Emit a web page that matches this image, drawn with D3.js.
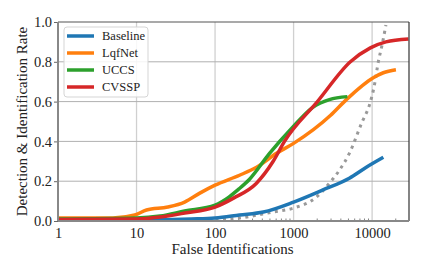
<!DOCTYPE html>
<html>
<head>
<meta charset="utf-8">
<script src="https://d3js.org/d3.v7.min.js"></script>
<style>
  body { margin: 0; background: #fff; }
</style>
</head>
<body>
<svg id="chart" width="428" height="275"></svg>
<script>
const FONT = "'Liberation Serif', serif";

// series names and colours
const names = ["Baseline", "LqfNet", "UCCS", "CVSSP"];
const colors = ["#1f77b4", "#ff7f0e", "#2ca02c", "#d62728"];

// [false identifications, rate]
const baseline = [[1,0.005],[10,0.005],[50,0.01],[100,0.015],[205,0.03],[412,0.045],[1000,0.095],[2330,0.155],[5130,0.215],[8440,0.27],[13900,0.32]];
const lqfnet = [[1,0.015],[5,0.015],[9.5,0.03],[13.4,0.055],[25,0.07],[41,0.095],[64,0.14],[100,0.18],[205,0.23],[338,0.27],[606,0.34],[1000,0.39],[2940,0.53],[4700,0.61],[10350,0.72],[13900,0.745],[20100,0.76]];
const uccs = [[1,0.01],[10,0.015],[20,0.025],[41,0.05],[100,0.08],[150,0.12],[200,0.16],[275,0.21],[494,0.34],[968,0.47],[1740,0.57],[2860,0.61],[4840,0.625]];
const cvssp = [[1,0.008],[10,0.01],[20,0.02],[41,0.04],[100,0.07],[172,0.115],[337,0.19],[550,0.3],[766,0.4],[2013,0.6],[5290,0.8],[9500,0.87],[15000,0.9],[29000,0.915]];
const unlabeled = [[1,0.002],[100,0.005],[205,0.015],[540,0.045],[1000,0.065],[1955,0.12],[2860,0.19],[3830,0.255],[5130,0.34],[7500,0.5],[9200,0.58],[10670,0.68],[12000,0.8],[13400,0.885],[15000,0.985]];

const xTicks = [1, 10, 100, 1000, 10000];
const yTicks = [0, 0.2, 0.4, 0.6, 0.8, 1.0];

const margin = {top: 22, right: 19, bottom: 54, left: 58};
const width = 428 - margin.left - margin.right;
const height = 275 - margin.top - margin.bottom;

const svg = d3.select("#chart");
const g = svg.append("g").attr("transform", `translate(${margin.left},${margin.top})`);

const x = d3.scaleLog().domain([1, 29500]).range([0, width]);
const y = d3.scaleLinear().domain([0, 1]).range([height, 0]);

// grid
g.selectAll(".vgrid").data(xTicks.slice(1)).enter().append("line")
  .attr("x1", d => x(d)).attr("x2", d => x(d))
  .attr("y1", 0).attr("y2", height)
  .attr("stroke", "#d0d0d0").attr("stroke-width", 1.3);
g.selectAll(".hgrid").data(yTicks.slice(1, -1)).enter().append("line")
  .attr("x1", 0).attr("x2", width)
  .attr("y1", d => y(d)).attr("y2", d => y(d))
  .attr("stroke", "#b0b0b0").attr("stroke-width", 1);

// minor x ticks (inward)
const minor = [];
for (let e = 0; e < 5; e++) for (let k = 2; k <= 9; k++) {
  const v = k * Math.pow(10, e);
  if (v < 29500) minor.push(v);
}
g.selectAll(".minor").data(minor).enter().append("line")
  .attr("x1", d => x(d)).attr("x2", d => x(d))
  .attr("y1", height).attr("y2", height - 2.5)
  .attr("stroke", "#666").attr("stroke-width", 0.8);

// lines
const line = d3.line().x(d => x(d[0])).y(d => y(d[1])).curve(d3.curveMonotoneX);

g.append("path").datum(unlabeled)
  .attr("d", line).attr("fill", "none")
  .attr("stroke", "#999").attr("stroke-width", 3)
  .attr("stroke-dasharray", "3,4.5");

[baseline, lqfnet, uccs, cvssp].forEach((s, i) => {
  g.append("path").datum(s)
    .attr("d", line).attr("fill", "none")
    .attr("stroke", colors[i]).attr("stroke-width", 3.5)
    .attr("stroke-linejoin", "round");
});

// axes
const xAxis = d3.axisBottom(x).tickValues(xTicks).tickFormat(d3.format("d")).tickSize(0).tickPadding(7);
const yAxis = d3.axisLeft(y).tickValues(yTicks).tickFormat(d3.format(".1f")).tickSize(4).tickPadding(2);

const gx = g.append("g").attr("transform", `translate(0,${height})`).call(xAxis);
const gy = g.append("g").call(yAxis);
gx.attr("font-family", FONT).attr("font-size", 14.5);
gy.attr("font-family", FONT).attr("font-size", 14.5);
gx.select(".domain").remove();
gy.select(".domain").remove();
gx.selectAll("text").attr("fill", "#222");
gy.selectAll("text").attr("fill", "#222");
gy.selectAll(".tick line").attr("stroke", "#666");

// frame
g.append("line").attr("x1", 0).attr("x2", width).attr("y1", 0).attr("y2", 0).attr("stroke", "#555").attr("stroke-width", 1.2);
g.append("line").attr("x1", width).attr("x2", width).attr("y1", 0).attr("y2", height).attr("stroke", "#333").attr("stroke-width", 1.2);
g.append("line").attr("x1", 0).attr("x2", width).attr("y1", height).attr("y2", height).attr("stroke", "#888").attr("stroke-width", 2);
g.append("line").attr("x1", 0).attr("x2", 0).attr("y1", 0).attr("y2", height).attr("stroke", "#888").attr("stroke-width", 2);

// axis labels
svg.append("text").attr("x", margin.left + width / 2 - 1).attr("y", 254)
  .attr("text-anchor", "middle").attr("font-size", 15).attr("font-family", FONT)
  .attr("fill", "#222").text("False Identifications");
svg.append("text").attr("transform", `translate(27,${margin.top + height / 2}) rotate(-90)`)
  .attr("text-anchor", "middle").attr("font-size", 15).attr("font-family", FONT)
  .attr("fill", "#222").text("Detection & Identification Rate");

// legend
const lg = svg.append("g").attr("transform", "translate(64,27)");
lg.append("rect").attr("width", 84).attr("height", 70).attr("rx", 3)
  .attr("fill", "#fff").attr("fill-opacity", 0.85).attr("stroke", "#d5d5d5");
names.forEach((n, i) => {
  const yy = 9 + i * 17;
  lg.append("line").attr("x1", 3).attr("x2", 30).attr("y1", yy).attr("y2", yy)
    .attr("stroke", colors[i]).attr("stroke-width", 3.5);
  lg.append("text").attr("x", 38).attr("y", yy).attr("dy", "0.35em")
    .attr("font-size", 12.5).attr("font-family", FONT)
    .attr("fill", "#222").text(n);
});
</script>
</body>
</html>
